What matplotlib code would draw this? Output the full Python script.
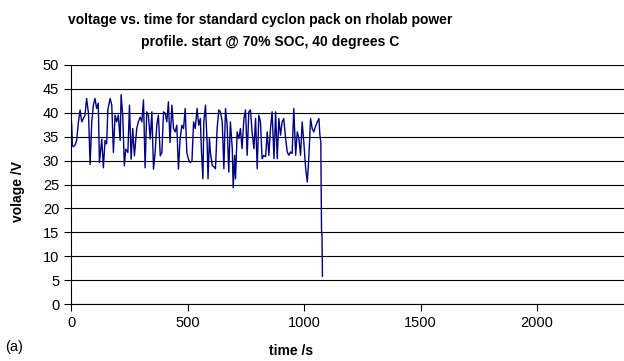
import matplotlib
matplotlib.use("Agg")
import matplotlib.pyplot as plt

plt.rcParams['font.family'] = ['Liberation Sans', 'DejaVu Sans']

time_s = [0, 3, 6, 10, 18, 24, 32, 39, 46, 53, 60, 67, 75, 82, 89, 96, 103, 110, 117, 122,
          132, 139, 146, 153, 158, 168, 175, 182, 189, 196, 203, 211, 215, 222, 229, 235,
          244, 251, 258, 265, 272, 282, 289, 297, 304, 311, 318, 325, 332, 340, 347, 354,
          361, 368, 375, 383, 390, 397, 404, 411, 418, 425, 433, 440, 447, 454, 461, 468,
          476, 483, 490, 497, 504, 511, 519, 526, 533, 541, 548, 555, 560, 566, 570, 577,
          584, 588, 594, 598, 606, 613, 620, 627, 634, 641, 649, 656, 663, 670, 677, 684,
          692, 696, 702, 706, 713, 720, 727, 734, 742, 749, 756, 763, 770, 777, 785, 792,
          799, 806, 813, 820, 828, 835, 842, 849, 856, 863, 871, 878, 885, 892, 899, 906,
          913, 921, 928, 935, 942, 949, 956, 964, 971, 978, 985, 992, 999, 1007, 1014, 1021,
          1028, 1035, 1042, 1049, 1057, 1064, 1068, 1072, 1075, 1077, 1079]
voltage_v = [39.1, 37.4, 33.1, 32.9, 33.3, 34.2, 38.1, 40.6, 38.1, 38.8, 39.5, 43.0, 39.9, 29.2,
             38.1, 41.6, 43.0, 40.9, 42.0, 29.6, 34.5, 28.5, 34.2, 33.5, 40.6, 43.0, 41.6, 31.7,
             39.5, 38.1, 39.5, 34.2, 43.8, 39.5, 28.9, 32.4, 31.7, 41.6, 30.3, 36.7, 31.0, 36.7,
             38.1, 39.1, 38.1, 42.7, 28.5, 40.2, 39.5, 34.5, 40.2, 28.2, 31.7, 37.4, 39.5, 31.0,
             31.7, 40.2, 39.9, 38.1, 42.3, 33.8, 41.6, 36.7, 36.0, 37.4, 28.2, 34.5, 37.4, 36.7,
             40.9, 31.7, 30.3, 29.6, 29.9, 38.1, 36.7, 40.9, 37.4, 38.8, 31.8, 26.2, 38.1, 41.6,
             33.9, 26.2, 34.6, 31.8, 29.0, 28.7, 28.3, 36.7, 40.6, 40.2, 38.1, 28.3, 40.9, 37.4,
             27.6, 38.1, 32.5, 24.3, 31.1, 26.2, 36.0, 34.6, 36.7, 32.5, 38.8, 40.6, 31.1, 40.2,
             40.6, 36.0, 32.5, 38.8, 28.3, 39.5, 38.1, 30.4, 31.1, 30.8, 36.0, 31.1, 36.7, 40.2,
             30.4, 40.2, 30.4, 38.8, 35.3, 38.1, 38.8, 34.6, 31.8, 31.1, 31.8, 31.5, 40.9, 31.1,
             36.0, 34.6, 31.1, 38.1, 33.9, 28.3, 25.5, 31.1, 38.8, 36.7, 36.0, 37.1, 38.1, 38.8,
             35.3, 33.9, 15.4, 14.4, 5.8]

x_ticks = [0, 500, 1000, 1500, 2000]
y_ticks = [0, 5, 10, 15, 20, 25, 30, 35, 40, 45, 50]

fig = plt.figure(figsize=(6.24, 3.61), dpi=100)
ax = fig.add_axes([71/624, 1 - 304/361, 1 - 71/624, (304 - 65)/361])

ax.plot(time_s, voltage_v, color='#000080', linewidth=1.0)

ax.set_xlim(0, 2373)
ax.set_ylim(0, 50)
ax.set_xticks(x_ticks)
ax.set_yticks(y_ticks)
ax.yaxis.grid(True, color='black', linewidth=0.8)
ax.set_axisbelow(True)
for s in ['top', 'right']:
    ax.spines[s].set_visible(False)
ax.spines['left'].set_linewidth(0.8)
ax.spines['bottom'].set_linewidth(0.8)
ax.tick_params(axis='both', direction='out', length=5, width=0.8, labelsize=10.5, colors='black')

fig.text(260/624, 1 - 20/361, 'voltage vs. time for standard cyclon pack on rholab power',
         ha='center', va='center', fontsize=10, fontweight='bold')
fig.text(270/624, 1 - 42/361, 'profile. start @ 70% SOC, 40 degrees C',
         ha='center', va='center', fontsize=10, fontweight='bold')
fig.text(291/624, 1 - 351/361, 'time /s', ha='center', va='center', fontsize=10, fontweight='bold')
fig.text(18/624, 1 - 191/361, 'volage /V', ha='center', va='center', rotation=90,
         fontsize=10, fontweight='bold')
fig.text(5/624, 1 - 347/361, '(a)', ha='left', va='center', fontsize=10.5)

fig.savefig('out.png', dpi=100)
